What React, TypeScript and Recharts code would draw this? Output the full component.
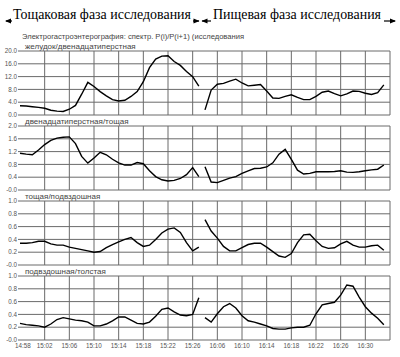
import { LineChart, Line, XAxis, YAxis, CartesianGrid } from 'recharts'

// x positions: one step per minute slot, grid every 4 slots
const xTickPos = [0, 4, 8, 12, 16, 20, 24, 28, 32, 36, 40, 44, 48, 52, 56]
const xTickLabels = ['14:58', '15:02', '15:06', '15:10', '15:14', '15:18', '15:22', '15:26', '16:06', '16:10', '16:14', '16:18', '16:22', '16:26', '16:30']
const gridPos = [4, 8, 12, 16, 20, 24, 28, 32, 36, 40, 44, 48, 52, 56, 60]

const ticksStomach = [0, 4, 8, 12, 16, 20]
const ticksDuod = [0, 0.4, 0.8, 1.2, 1.6, 2.0]
const ticksUnit = [0, 0.2, 0.4, 0.6, 0.8, 1.0]

// желудок/двенадцатиперстная
const fastStomachDuod = [2.9, 2.8, 2.6, 2.4, 2.1, 1.5, 1.2, 1.1, 1.8, 3.0, 6.5, 10.2, 8.9, 7.3, 6.0, 4.8, 4.4, 4.6, 5.8, 7.3, 10.4, 14.8, 17.5, 18.4, 18.5, 16.7, 15.5, 13.6, 12.0, 9.0]
const foodStomachDuod = [1.6, 7.8, 9.6, 9.9, 10.6, 11.2, 10.0, 9.1, 9.3, 9.5, 7.5, 5.3, 5.2, 5.8, 6.3, 5.5, 4.8, 4.8, 5.8, 7.1, 7.5, 6.7, 6.0, 6.6, 7.5, 7.4, 6.8, 6.4, 7.0, 9.4]

// двенадцатиперстная/тощая
const fastDuodJej = [1.15, 1.12, 1.1, 1.25, 1.42, 1.55, 1.62, 1.65, 1.66, 1.45, 1.05, 0.84, 1.0, 1.18, 1.1, 0.96, 0.85, 0.78, 0.78, 0.86, 0.82, 0.6, 0.42, 0.32, 0.28, 0.3, 0.36, 0.48, 0.7, 0.42]
const foodDuodJej = [0.73, 0.25, 0.23, 0.3, 0.37, 0.42, 0.52, 0.6, 0.67, 0.68, 0.72, 0.85, 1.12, 1.27, 0.96, 0.62, 0.5, 0.52, 0.57, 0.57, 0.57, 0.58, 0.6, 0.56, 0.55, 0.57, 0.6, 0.63, 0.65, 0.78]

// тощая/подвздошная
const fastJejIleum = [0.34, 0.34, 0.35, 0.37, 0.37, 0.33, 0.31, 0.31, 0.28, 0.26, 0.24, 0.22, 0.2, 0.21, 0.27, 0.32, 0.36, 0.4, 0.43, 0.35, 0.29, 0.31, 0.4, 0.5, 0.56, 0.58, 0.51, 0.35, 0.22, 0.28]
const foodJejIleum = [0.71, 0.53, 0.42, 0.29, 0.22, 0.22, 0.27, 0.32, 0.34, 0.34, 0.28, 0.21, 0.14, 0.12, 0.18, 0.35, 0.47, 0.48, 0.38, 0.29, 0.26, 0.27, 0.33, 0.37, 0.31, 0.28, 0.28, 0.3, 0.31, 0.23]

// подвздошная/толстая
const fastIleumColon = [0.26, 0.24, 0.23, 0.22, 0.2, 0.25, 0.32, 0.35, 0.33, 0.31, 0.3, 0.28, 0.22, 0.22, 0.25, 0.3, 0.36, 0.36, 0.31, 0.26, 0.25, 0.28, 0.37, 0.48, 0.5, 0.44, 0.39, 0.38, 0.4, 0.66]
const foodIleumColon = [0.35, 0.28, 0.41, 0.52, 0.57, 0.5, 0.38, 0.3, 0.28, 0.25, 0.22, 0.18, 0.17, 0.17, 0.19, 0.2, 0.2, 0.23, 0.41, 0.55, 0.57, 0.59, 0.7, 0.86, 0.84, 0.67, 0.52, 0.42, 0.34, 0.24]

const GRID = '#6a6a6a'
const SANS = 'Liberation Sans, Arial, sans-serif'
const SERIF = 'Liberation Serif, Times New Roman, serif'

function toRows(fast: number[], food: number[]) {
  return [
    ...fast.map((v, i) => ({ pos: i, fast: v })),
    ...food.map((v, i) => ({ pos: fast.length + i, food: v })),
  ]
}

// first time label sits a bit right so it clears the "-0.0" tick
function XTick({ x, y, payload }: any) {
  const idx = xTickPos.indexOf(payload.value)
  const dx = idx === 0 ? 3 : 0
  return (
    <text x={x + dx} y={y} dy="0.71em" textAnchor="middle" fontSize={6.3} fill="#555" fontFamily={SANS}>
      {xTickLabels[idx] ?? ''}
    </text>
  )
}

interface PanelProps {
  top: number
  fast: number[]
  food: number[]
  ticks: number[]
  zero: string
  showX?: boolean
}

function Panel({ top, fast, food, ticks, zero, showX }: PanelProps) {
  const plotH = 64
  const mTop = 6
  const height = showX ? mTop + plotH + 16 : mTop + plotH + 2
  return (
    <div style={{ position: 'absolute', left: 0, top: top - mTop }}>
      <LineChart
        width={400}
        height={height}
        data={toRows(fast, food)}
        margin={{ top: mTop, right: 10, bottom: showX ? 0 : 2, left: 0 }}
      >
        <CartesianGrid stroke={GRID} strokeWidth={1} verticalValues={gridPos} />
        <XAxis
          type="number"
          dataKey="pos"
          domain={[0, 60]}
          ticks={xTickPos}
          hide={!showX}
          height={16}
          tickSize={0}
          tickMargin={4}
          axisLine={false}
          tickLine={false}
          interval={0}
          tick={<XTick />}
        />
        <YAxis
          width={20}
          domain={[ticks[0], ticks[ticks.length - 1]]}
          ticks={ticks}
          interval={0}
          axisLine={false}
          tickSize={2}
          tickMargin={1}
          tickLine={{ stroke: GRID }}
          tick={{ fontSize: 6.3, fill: '#555', fontFamily: SANS }}
          tickFormatter={(v: number) => (v === 0 ? zero : v.toFixed(1))}
        />
        <Line dataKey="fast" type="linear" stroke="#000" strokeWidth={1.4} dot={false} isAnimationActive={false} />
        <Line dataKey="food" type="linear" stroke="#000" strokeWidth={1.4} dot={false} isAnimationActive={false} />
      </LineChart>
    </div>
  )
}

export default function App() {
  return (
    <div style={{ position: 'absolute', left: 0, top: 0, width: 400, height: 357, background: '#fff', overflow: 'hidden' }}>
      <svg width={400} height={357} style={{ position: 'absolute', left: 0, top: 0 }}>
        <g stroke="#000" strokeWidth={1.2}>
          <line x1={6} y1={21} x2={12} y2={21} />
          <line x1={193} y1={21} x2={199} y2={21} />
          <line x1={202} y1={21} x2={211} y2={21} />
          <line x1={384} y1={21} x2={395} y2={21} />
        </g>
        <g fill="#000">
          <polygon points="5,21 11,18.5 11,23.5" />
          <polygon points="199.5,21 193.5,18.5 193.5,23.5" />
          <polygon points="201.5,21 207.5,18.5 207.5,23.5" />
          <polygon points="396,21 390,18.5 390,23.5" />
        </g>
        <text x={13} y={19} fontFamily={SERIF} fontSize={14} fill="#000" textLength={178} lengthAdjust="spacingAndGlyphs">
          Тощаковая фаза исследования
        </text>
        <text x={213} y={19} fontFamily={SERIF} fontSize={14} fill="#000" textLength={168} lengthAdjust="spacingAndGlyphs">
          Пищевая фаза исследования
        </text>
        <g fontFamily={SANS} fill="#444">
          <text x={22} y={38.5} fontSize={7.6}>
            Электрогастроэнтерография: спектр. P(i)/P(i+1)  (исследования
          </text>
          <text x={25} y={48.5} fontSize={8}>желудок/двенадцатиперстная</text>
          <text x={25} y={123.5} fontSize={8}>двенадцатиперстная/тощая</text>
          <text x={25} y={198.5} fontSize={8}>тощая/подвздошная</text>
          <text x={25} y={273.5} fontSize={8}>подвздошная/толстая</text>
        </g>
      </svg>
      <Panel top={51} fast={fastStomachDuod} food={foodStomachDuod} ticks={ticksStomach} zero="0.0" />
      <Panel top={126} fast={fastDuodJej} food={foodDuodJej} ticks={ticksDuod} zero="-0.0" />
      <Panel top={201} fast={fastJejIleum} food={foodJejIleum} ticks={ticksUnit} zero="-0.0" />
      <Panel top={276} fast={fastIleumColon} food={foodIleumColon} ticks={ticksUnit} zero="-0.0" showX />
    </div>
  )
}
